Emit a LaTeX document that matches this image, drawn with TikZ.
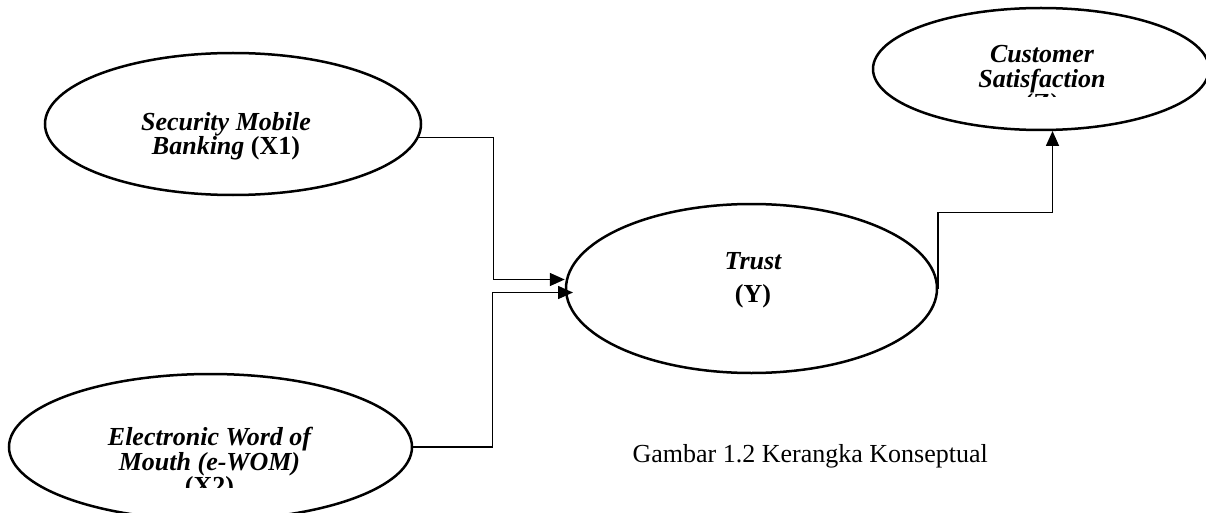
\documentclass[tikz,border=0pt]{standalone}
\usepackage{fontspec}
\setmainfont{Liberation Serif}
\usetikzlibrary{arrows.meta,shapes.geometric}
\begin{document}
\begin{tikzpicture}[x=1pt,y=-1pt,
  ell/.style={draw,ellipse,line width=2.5pt,inner sep=0pt},
  lbl/.style={align=center,inner sep=0pt,font=\fontsize{26}{24}\selectfont\bfseries\itshape},
  conn/.style={line width=1.6pt},
  arr/.style={conn,-{Triangle[length=15pt,width=13pt]}},
  captxt/.style={inner sep=0pt,font=\fontsize{26}{30}\selectfont}]
\useasboundingbox (0,0) rectangle (1206,513);
\clip (0,0) rectangle (1206,513);

% ellipses
\node[ell,minimum width=376pt,minimum height=142pt] (x1) at (233,124) {};
\node[ell,minimum width=403pt,minimum height=146pt] (x2) at (210.5,447) {};
\node[ell,minimum width=371pt,minimum height=169pt] (trust) at (751.5,288.5) {};
\node[ell,minimum width=336pt,minimum height=122pt] (cs) at (1041,69) {};

% labels
\node[lbl] (x1t) at (226,136) {Security Mobile\\Banking \upshape(X1)};
\node[lbl,font=\fontsize{26}{33}\selectfont\bfseries\itshape] (trt) at (753,280.5) {Trust\\\upshape(Y)};
\begin{scope}
  \clip (870,0) rectangle (1206,97);
  \node[lbl,font=\fontsize{26}{24.5}\selectfont\bfseries\itshape] (cst) at (1042,81.5) {Customer\\Satisfaction\\\upshape(Z)};
\end{scope}
\begin{scope}
  \clip (0,370) rectangle (420,487);
  \node[lbl,font=\fontsize{26}{23}\selectfont\bfseries\itshape] (x2t) at (209.5,464) {Electronic Word of\\Mouth (e-WOM)\\\upshape(X2)};
\end{scope}

% connectors
\coordinate (k1) at (493.5,137.5);
\coordinate (k1b) at (493.5,279.5);
\coordinate (k2) at (492.5,292.5);
\coordinate (t2) at (573,292.5);
\coordinate (k3) at (937.5,212.5);
\coordinate (t3) at (937.5,288.5);
\coordinate (t4) at (1052.5,131);
\draw[arr] ([xshift=-3.4pt]x1.east |- k1) -- (k1) -- (k1b) -- (trust.west |- k1b);
\draw[arr] (x2.east) -| (k2) -- (t2);
\draw[arr] (trust.east |- t3) -- (trust.east |- k3) -| (t4);

% caption
\node[captxt,anchor=base east] (cap) at (988,462) {Gambar 1.2 Kerangka Konseptual};
\end{tikzpicture}
\end{document}
